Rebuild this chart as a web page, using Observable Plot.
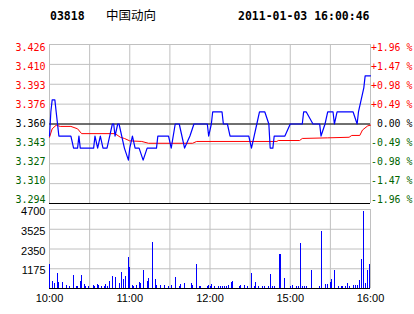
<!DOCTYPE html>
<html><head><meta charset="utf-8">
<script src="https://cdn.jsdelivr.net/npm/d3@7"></script>
<script src="https://cdn.jsdelivr.net/npm/@observablehq/plot@0.6"></script>
<style>
body{margin:0;background:#fff;}
#wrap{position:relative;width:414px;height:314px;overflow:hidden;background:#fff;}
#wrap svg{position:absolute;left:0;overflow:visible;}
</style></head><body>
<div id="wrap"></div>
<script>
const stockCode = "03818";
const stockName = "中国动向";
const stamp = "2011-01-03 16:00:46";

const priceTicks = [3.426, 3.4095, 3.393, 3.3765, 3.360, 3.3435, 3.327, 3.3105, 3.294];
const priceLabels = ["3.426","3.410","3.393","3.376","3.360","3.343","3.327","3.310","3.294"];
const pctLabels = ["+1.96 %","+1.47 %","+0.98 %","+0.49 %","\u00a00.00 %","-0.49 %","-0.98 %","-1.47 %","-1.96 %"];
const prevClose = 3.360;
const timeTicks = [0, 60, 120, 180, 240];
const timeLabels = ["10:00","11:00","12:00","15:00","16:00"];
const gridMinutes = [0, 30, 60, 90, 120, 150, 180, 210, 240];
const volTicks = [1175, 2350, 3525, 4700];

const priceMin = [0,1,2,4,5,6,7,16,18,21,22,23,33,34,36,38,40,43,45,47,48,49,51,52,54,56,59,60,62,64,67,70,73,80,81,89,91,94,97,101,105,108,118,119,121,122,129,130,133,135,149,151,153,155,157,161,164,165,167,168,176,180,189,190,192,197,202,203,206,208,212,213,215,227,230,231,233,235,236,240];
const priceVal = [3.35,3.37,3.38,3.38,3.37,3.36,3.35,3.35,3.34,3.34,3.35,3.34,3.34,3.35,3.34,3.35,3.34,3.34,3.35,3.36,3.36,3.35,3.36,3.36,3.35,3.34,3.33,3.34,3.35,3.34,3.34,3.33,3.34,3.34,3.35,3.35,3.34,3.36,3.36,3.34,3.35,3.36,3.36,3.35,3.36,3.37,3.37,3.36,3.36,3.35,3.35,3.34,3.35,3.36,3.37,3.37,3.36,3.34,3.34,3.35,3.35,3.36,3.36,3.37,3.37,3.36,3.36,3.35,3.36,3.37,3.37,3.36,3.37,3.37,3.36,3.37,3.38,3.39,3.40,3.40];

const avgMin = [0,2,5,8,16,21,24,49,53,56,60,69,74,107,110,170,171,187,189,208,224,226,232,234,238,240];
const avgVal = [3.349,3.356,3.359,3.358,3.358,3.356,3.352,3.352,3.349,3.348,3.346,3.3455,3.344,3.344,3.3455,3.3455,3.3463,3.3463,3.348,3.3485,3.349,3.3505,3.3505,3.355,3.3585,3.359];

const volMin = [0,2,4,6,7,10,13,15,18,20,21,23,24,26,27,29,33,34,36,37,39,41,42,43,45,47,49,52,54,55,57,59,60,62,63,65,67,68,70,73,74,77,79,80,83,86,89,91,94,97,98,101,106,107,110,112,113,118,119,120,121,123,126,128,129,131,132,134,136,137,142,143,146,148,151,153,154,156,159,161,164,165,167,168,172,173,176,180,182,185,186,188,189,191,192,196,202,203,206,208,210,211,213,216,218,219,221,223,224,227,229,230,232,233,235,236,238,239];
const volVal = [1448,436,317,912,377,377,198,139,793,139,139,436,793,258,139,139,198,139,258,198,139,139,258,139,436,734,674,317,972,555,734,1864,1269,198,139,198,377,317,1091,436,615,2757,555,198,198,198,139,198,674,139,258,317,317,198,1448,139,139,139,198,139,258,139,139,139,139,139,139,198,377,436,139,198,198,139,912,139,377,139,139,139,139,853,139,139,2043,2043,615,139,198,139,139,2697,139,139,139,1091,139,3411,258,258,377,555,1091,139,139,139,139,317,139,198,198,198,496,1745,4600,317,1091,1448];

const RED = "#ff0000", GREEN = "#006400", GRID = "#c0c0c0";
const monoFont = "DejaVu Sans Mono, monospace";
const sansFont = "Liberation Sans, Arial, sans-serif";

const price = priceMin.map((m, i) => ({m, p: priceVal[i]}));
const avg = avgMin.map((m, i) => ({m, p: avgVal[i]}));
const vol = volMin.map((m, i) => ({m, v: volVal[i]}));
const labelColor = i => (i < 4 ? RED : i === 4 ? "#000" : GREEN);

const wrap = document.getElementById("wrap");

// header
const head = d3.create("svg").attr("width", 414).attr("height", 30).style("top", "0px");
head.append("text").attr("x", 50).attr("y", 20).attr("font-family", monoFont).attr("font-weight", "bold").attr("font-size", 11.5).text(stockCode);
head.append("text").attr("x", 106).attr("y", 19.5).attr("font-family", "Noto Sans CJK SC").attr("font-size", 12.5).text(stockName);
head.append("text").attr("x", 238).attr("y", 20).attr("font-family", monoFont).attr("font-weight", "bold").attr("font-size", 11.5).text(stamp);
wrap.appendChild(head.node());

// price panel
const leftLabels = priceLabels.map((lab, i) => Plot.text([priceTicks[i]], {
  y: d => d, text: () => lab, frameAnchor: "left", textAnchor: "end", dx: -4,
  dy: (4 - i) * 0.85, fill: labelColor(i), fontFamily: monoFont, fontSize: 10
}));
const rightLabels = pctLabels.map((lab, i) => Plot.text([priceTicks[i]], {
  y: d => d, text: () => lab, frameAnchor: "right", textAnchor: "start", dx: 0.5,
  dy: (4 - i) * 0.85, fill: labelColor(i), fontFamily: monoFont, fontSize: 9.8
}));

const pricePlot = Plot.plot({
  width: 414, height: 205,
  marginTop: 44, marginBottom: 2, marginLeft: 49, marginRight: 44,
  x: {domain: [0, 240], axis: null},
  y: {domain: [3.294, 3.426], axis: null},
  style: {background: "transparent", overflow: "visible"},
  marks: [
    Plot.ruleY(priceTicks, {stroke: GRID}),
    Plot.ruleX(gridMinutes, {stroke: GRID}),
    Plot.ruleY([prevClose, priceTicks[8]], {stroke: "#000"}),
    Plot.line(avg, {x: "m", y: "p", stroke: RED, strokeWidth: 1}),
    Plot.line(price, {x: "m", y: "p", stroke: "#0000ff", strokeWidth: 1.2}),
    ...leftLabels,
    ...rightLabels
  ]
});
pricePlot.style.top = "0px";
wrap.appendChild(pricePlot);

// volume panel
const volPlot = Plot.plot({
  width: 414, height: 114,
  marginTop: 9, marginBottom: 26, marginLeft: 49, marginRight: 44,
  x: {domain: [0, 240], axis: null},
  y: {domain: [0, 4700], axis: null},
  style: {background: "transparent", overflow: "visible"},
  marks: [
    Plot.ruleY(volTicks, {stroke: GRID}),
    Plot.ruleX(gridMinutes, {stroke: GRID}),
    Plot.ruleX(vol, {x: "m", y1: 0, y2: "v", stroke: "#0000ff", strokeWidth: 1, shapeRendering: "crispEdges"}),
    Plot.ruleY([0], {stroke: "#000"}),
    Plot.text(volTicks, {y: d => d, text: d => String(d), frameAnchor: "left", textAnchor: "end", dx: -4, dy: 2, fontFamily: sansFont, fontSize: 11, fill: "#000"}),
    Plot.text(timeTicks, {x: d => d, text: (d, i) => timeLabels[i], frameAnchor: "bottom", lineAnchor: "top", dy: 6, fontFamily: sansFont, fontSize: 11, fill: "#000"})
  ]
});
volPlot.style.top = "200px";
wrap.appendChild(volPlot);
</script>
</body></html>
